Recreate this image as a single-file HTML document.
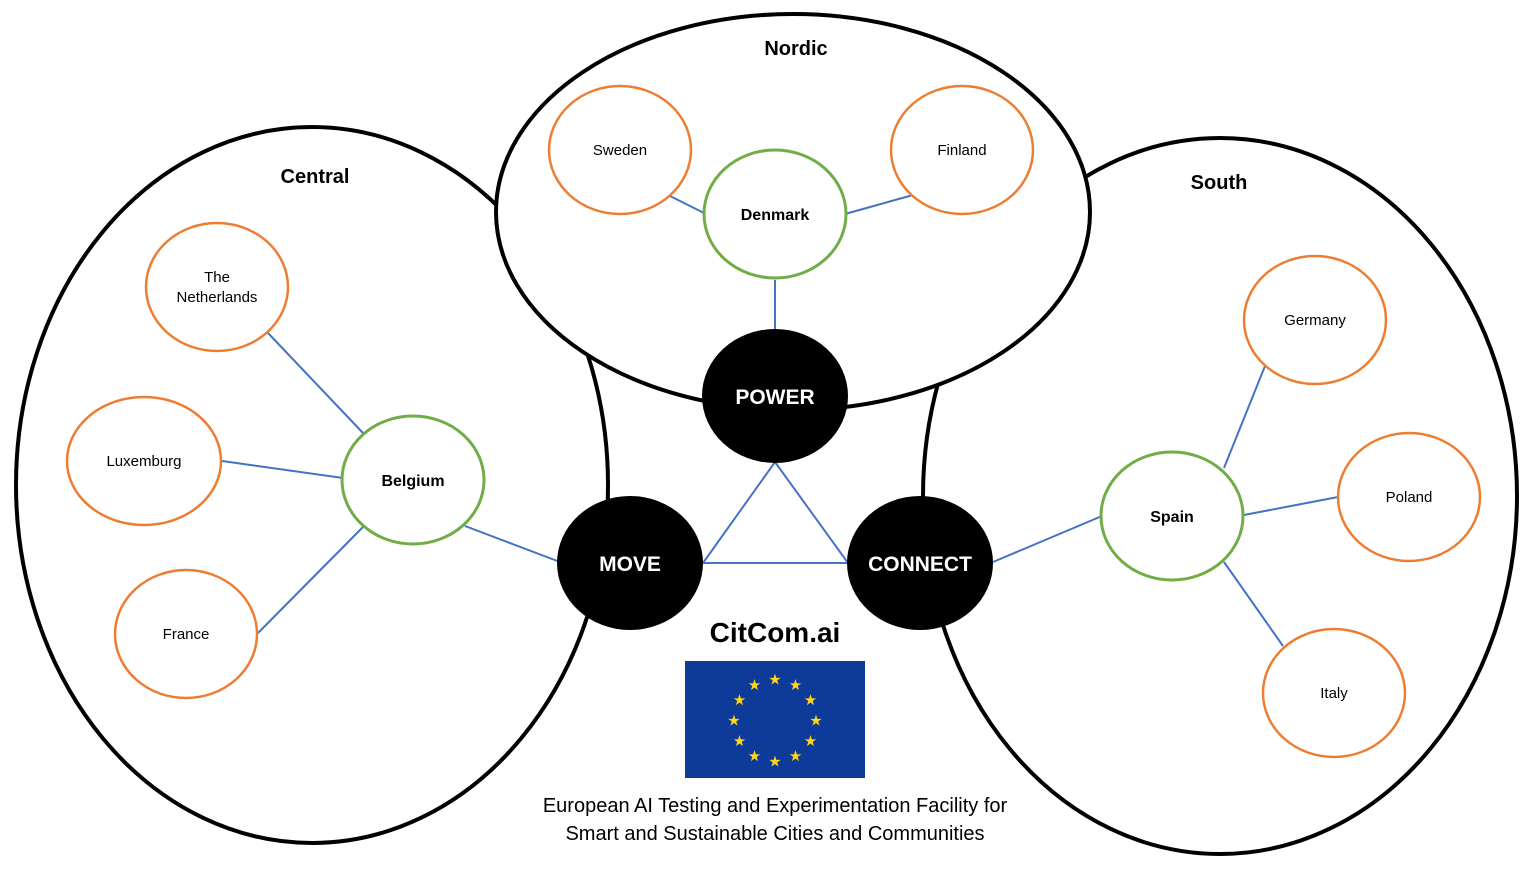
<!DOCTYPE html>
<html><head><meta charset="utf-8"><style>html,body{margin:0;padding:0;background:#fff}svg{display:block}</style></head>
<body>
<svg width="1534" height="872" viewBox="0 0 1534 872" xmlns="http://www.w3.org/2000/svg" font-family="Liberation Sans, sans-serif">
<rect width="1534" height="872" fill="#fff"/>
<ellipse cx="312" cy="485" rx="296" ry="358" fill="#fff" stroke="#000" stroke-width="4"/>
<ellipse cx="1220" cy="496" rx="297" ry="358" fill="#fff" stroke="#000" stroke-width="4"/>
<ellipse cx="793" cy="212" rx="297" ry="198" fill="#fff" stroke="#000" stroke-width="4"/>
<g stroke="#4472C4" stroke-width="2" fill="none">
<line x1="775" y1="280" x2="775" y2="332"/>
<line x1="668" y1="195" x2="706" y2="214"/>
<line x1="845" y1="214" x2="913" y2="195"/>
<line x1="268" y1="333" x2="363" y2="433"/>
<line x1="222" y1="461" x2="343" y2="478"/>
<line x1="258" y1="633" x2="363" y2="527"/>
<line x1="465" y1="526" x2="560" y2="562"/>
<line x1="993" y1="562" x2="1102" y2="516"/>
<line x1="1224" y1="468" x2="1265" y2="366"/>
<line x1="1244" y1="515" x2="1338" y2="497"/>
<line x1="1224" y1="562" x2="1283" y2="646"/>
<polygon points="775,462 703,563 848,563"/>
</g>
<g fill="#fff" stroke="#ED7D31" stroke-width="2.5">
<ellipse cx="620" cy="150" rx="71" ry="64"/>
<ellipse cx="962" cy="150" rx="71" ry="64"/>
<ellipse cx="217" cy="287" rx="71" ry="64"/>
<ellipse cx="144" cy="461" rx="77" ry="64"/>
<ellipse cx="186" cy="634" rx="71" ry="64"/>
<ellipse cx="1315" cy="320" rx="71" ry="64"/>
<ellipse cx="1409" cy="497" rx="71" ry="64"/>
<ellipse cx="1334" cy="693" rx="71" ry="64"/>
</g>
<g fill="#fff" stroke="#70AD47" stroke-width="3">
<ellipse cx="775" cy="214" rx="71" ry="64"/>
<ellipse cx="413" cy="480" rx="71" ry="64"/>
<ellipse cx="1172" cy="516" rx="71" ry="64"/>
</g>
<g fill="#000">
<ellipse cx="775" cy="396" rx="73" ry="67"/>
<ellipse cx="630" cy="563" rx="73" ry="67"/>
<ellipse cx="920" cy="563" rx="73" ry="67"/>
</g>
<g font-size="15" text-anchor="middle" fill="#000">
<text x="620" y="155">Sweden</text>
<text x="962" y="155">Finland</text>
<text x="217" y="282">The</text>
<text x="217" y="302">Netherlands</text>
<text x="144" y="466">Luxemburg</text>
<text x="186" y="639">France</text>
<text x="1315" y="325">Germany</text>
<text x="1409" y="502">Poland</text>
<text x="1334" y="698">Italy</text>
</g>
<g font-size="16" font-weight="bold" text-anchor="middle" fill="#000">
<text x="775" y="220">Denmark</text>
<text x="413" y="486">Belgium</text>
<text x="1172" y="522">Spain</text>
</g>
<g font-size="20" font-weight="bold" text-anchor="middle" fill="#000">
<text x="796" y="55">Nordic</text>
<text x="315" y="183">Central</text>
<text x="1219" y="189">South</text>
</g>
<g font-size="21" font-weight="bold" text-anchor="middle" fill="#fff">
<text x="775" y="404">POWER</text>
<text x="630" y="571">MOVE</text>
<text x="920" y="571">CONNECT</text>
</g>
<text x="775" y="642" font-size="28" font-weight="bold" text-anchor="middle">CitCom.ai</text>
<rect x="685" y="661" width="180" height="117" fill="#0E3A9A"/>
<g fill="#FFD617" font-size="15" text-anchor="middle">
<text x="775.0" y="684.5">★</text><text x="795.5" y="690.0">★</text><text x="810.5" y="705.0">★</text><text x="816.0" y="725.5">★</text><text x="810.5" y="746.0">★</text><text x="795.5" y="761.0">★</text><text x="775.0" y="766.5">★</text><text x="754.5" y="761.0">★</text><text x="739.5" y="746.0">★</text><text x="734.0" y="725.5">★</text><text x="739.5" y="705.0">★</text><text x="754.5" y="690.0">★</text>
</g>
<g font-size="20" text-anchor="middle" fill="#000">
<text x="775" y="812">European AI Testing and Experimentation Facility for</text>
<text x="775" y="840">Smart and Sustainable Cities and Communities</text>
</g>
</svg>
</body></html>
